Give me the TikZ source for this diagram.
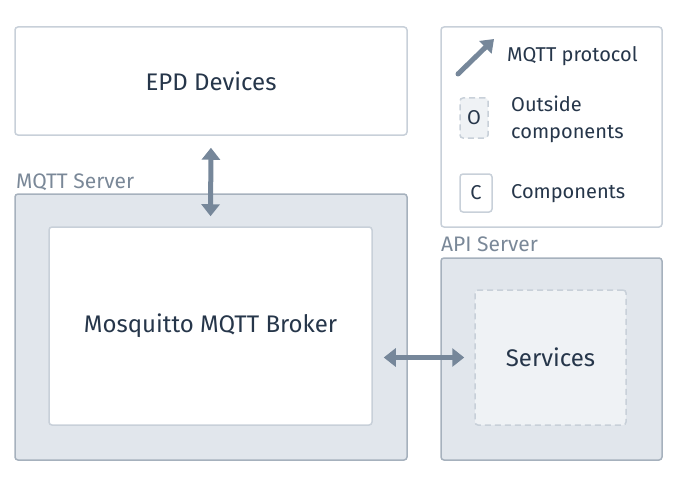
\documentclass[tikz,border=0pt]{standalone}
\usepackage{fontspec}
\setmainfont{Fira Sans}
\usetikzlibrary{arrows.meta}
\definecolor{edgegray}{HTML}{C8D0D9}
\definecolor{groupfill}{HTML}{E1E6EC}
\definecolor{groupedge}{HTML}{A6B1BD}
\definecolor{outfill}{HTML}{EFF2F5}
\definecolor{arrowgray}{HTML}{76879A}
\definecolor{labelgray}{HTML}{7A8898}
\definecolor{textdark}{HTML}{26364A}

\begin{document}
\begin{tikzpicture}[x=1pt,y=-1pt,
  box/.style={rectangle, draw=edgegray, line width=1.5pt, rounded corners=3pt, fill=white,
    text=textdark, font=\fontsize{24}{28}\selectfont, anchor=center, inner sep=0pt},
  group/.style={box, draw=groupedge, fill=groupfill},
  outside/.style={box, draw=edgegray, fill=outfill, dashed, dash pattern=on 6pt off 4pt},
  grouplabel/.style={anchor=base west, text=labelgray, font=\fontsize{21}{24}\selectfont, inner sep=0pt},
  legendtext/.style={anchor=west, text=textdark, font=\fontsize{20}{27}\selectfont, inner sep=0pt, align=left},
  link/.style={line width=5pt, draw=arrowgray, {Triangle[width=18pt,length=12pt]}-{Triangle[width=18pt,length=12pt]}}]
\useasboundingbox (0,0) rectangle (676,476);

\node[box, minimum width=392pt, minimum height=108pt] at (211,81) (epd) {EPD Devices};

\node[grouplabel] at (16,188) (mqttlabel) {MQTT Server};
\node[group, minimum width=392pt, minimum height=266pt] at (211,327) (mqttsrv) {};
\node[box, minimum width=323pt, minimum height=198pt] at (210.5,326) (broker) {Mosquitto MQTT Broker};

\node[grouplabel] at (441,251) (apilabel) {API Server};
\node[group, minimum width=221pt, minimum height=202pt] at (551.5,359) (apisrv) {};
\node[outside, minimum width=151pt, minimum height=135pt] at (550.5,357.5) (services) {Services};

% legend
\node[box, minimum width=221pt, minimum height=200pt] at (551.5,127) (legend) {};
\coordinate (protofrom) at (458,74);
\coordinate (prototo) at (494,39);
\draw[line width=5pt, draw=arrowgray, line cap=round, -{Triangle[width=17pt,length=12pt]}] (protofrom) -- (prototo);
\node[legendtext] at (507,56) (prototext) {MQTT protocol};
\node[outside, font=\fontsize{20}{24}\selectfont, minimum width=28pt, minimum height=40pt] at (474,118) (outkey) {O};
\node[legendtext] at (511,119.5) (outtext) {Outside\\components};
\node[box, font=\fontsize{20}{24}\selectfont, minimum width=32pt, minimum height=38pt] at (476,193) (compkey) {C};
\node[legendtext] at (511,194) (comptext) {Components};

\draw[link, shorten <=12pt, shorten >=10pt] (epd.south) -- (broker.north);
\draw[link, shorten <=11pt, shorten >=10pt] (services.west -| broker.east) -- (services.west);

\end{tikzpicture}
\end{document}
